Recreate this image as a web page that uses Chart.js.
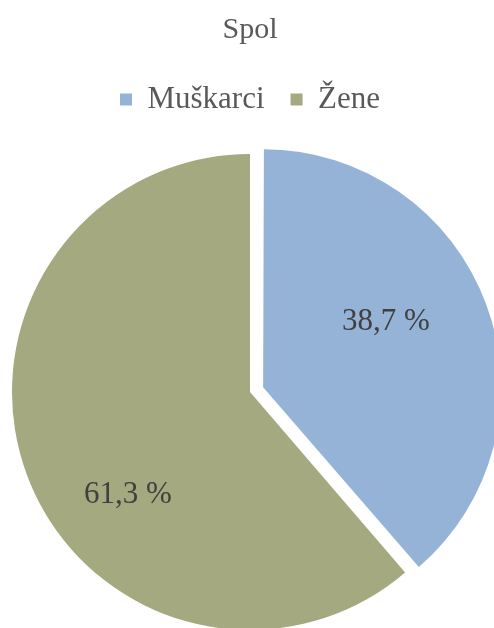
<!DOCTYPE html>
<html>
<head>
<meta charset="utf-8">
<script src="https://cdn.jsdelivr.net/npm/chart.js@4/dist/chart.umd.min.js"></script>
<style>
  html, body { margin: 0; padding: 0; background: #ffffff; overflow: hidden; width: 494px; height: 628px; }
  #wrap { position: absolute; left: 0; top: 0; width: 500px; height: 659px; }
</style>
</head>
<body>
<div id="wrap"><canvas id="c" width="500" height="659"></canvas></div>
<script>
const chartTitle = 'Spol';
const categories = ['Muškarci', 'Žene'];
const values = [38.7, 61.3];
const valueLabels = ['38,7 %', '61,3 %'];
const colors = ['#95B3D7', '#A4A97F'];

const FONT = "'Liberation Serif', 'Times New Roman', serif";
const PIE_RADIUS = 238;

// place each value label inside its slice
const labelAngleFrac = [0.444, 0.41];
const labelRadiusFrac = [0.585, 0.671];

// keep an exploded slice at the same radius as the others
const keepRadius = {
  id: 'keepRadius',
  beforeDatasetsDraw(chart) {
    const meta = chart.getDatasetMeta(0);
    meta.data.forEach((arc) => {
      const off = (arc.options.offset || 0) / 4;
      const circ = arc.endAngle - arc.startAngle;
      const fix = 1 - Math.sin(Math.min(Math.PI, circ || 0));
      arc.outerRadius = PIE_RADIUS - off * fix;
    });
  }
};

const sliceLabels = {
  id: 'sliceLabels',
  afterDatasetsDraw(chart) {
    const ctx = chart.ctx;
    const meta = chart.getDatasetMeta(0);
    ctx.save();
    ctx.font = '31px ' + FONT;
    ctx.fillStyle = '#404040';
    ctx.textAlign = 'center';
    ctx.textBaseline = 'middle';
    meta.data.forEach((arc, i) => {
      const off = (arc.options.offset || 0) / 4;
      const mid = (arc.startAngle + arc.endAngle) / 2;
      const cx = arc.x + Math.cos(mid) * off;
      const cy = arc.y + Math.sin(mid) * off;
      const a = arc.startAngle + (arc.endAngle - arc.startAngle) * labelAngleFrac[i];
      const r = PIE_RADIUS * labelRadiusFrac[i];
      ctx.fillText(valueLabels[i], cx + Math.cos(a) * r, cy + Math.sin(a) * r);
    });
    ctx.restore();
  }
};

new Chart(document.getElementById('c'), {
  type: 'pie',
  data: {
    labels: categories,
    datasets: [{
      data: values,
      backgroundColor: colors,
      borderWidth: 0,
      offset: [56, 0],
      hoverOffset: 0
    }]
  },
  options: {
    responsive: false,
    animation: false,
    events: [],
    radius: PIE_RADIUS,
    layout: { padding: 0 },
    plugins: {
      title: {
        display: true,
        text: chartTitle,
        color: '#595959',
        font: { family: FONT, size: 30, weight: 'normal', lineHeight: 1.2 },
        padding: { top: 12, bottom: 10 }
      },
      legend: {
        display: true,
        position: 'top',
        labels: {
          color: '#595959',
          font: { family: FONT, size: 31 },
          boxWidth: 12,
          boxHeight: 12,
          padding: 26
        }
      },
      tooltip: { enabled: false }
    }
  },
  plugins: [keepRadius, sliceLabels]
});
</script>
</body>
</html>
